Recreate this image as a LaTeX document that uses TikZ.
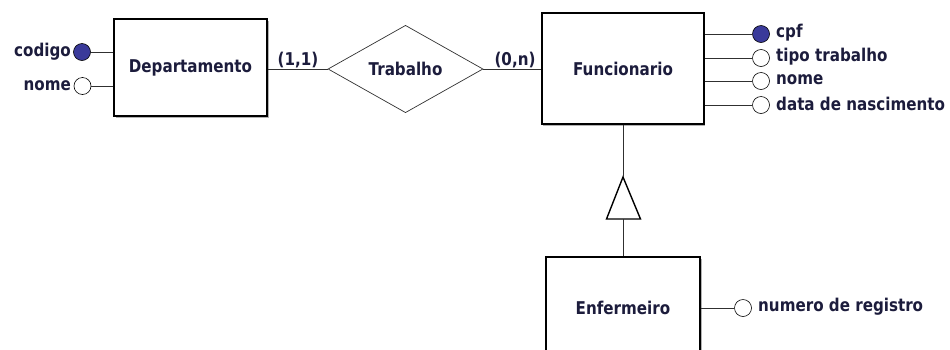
\documentclass[tikz,border=0pt]{standalone}
\usepackage{fontspec}
\setmainfont{DejaVu Sans}[FakeStretch=0.86]
\usetikzlibrary{shapes.geometric}
\definecolor{txt}{HTML}{1C1C3C}
\definecolor{keyfill}{HTML}{3A3A9A}
\definecolor{ln}{HTML}{303030}
\tikzset{
  lbl/.style={font=\fontsize{17.6}{20}\selectfont\bfseries, text=txt, inner sep=0pt},
  entity/.style={draw=black, line width=1.3pt, fill=white, inner sep=0pt, lbl},
  attr/.style={circle, draw=black, line width=0.6pt, fill=white, minimum size=17pt, inner sep=0pt},
  keyattr/.style={attr, fill=keyfill},
  conn/.style={draw=ln, line width=0.9pt},
}
\begin{document}
\begin{tikzpicture}[x=1pt,y=-1pt]
\useasboundingbox (0,0) rectangle (950,349);
\clip (0,0) rectangle (950,349);
% shadows
\fill[gray!60] (116,21) rectangle (269,118);
\fill[gray!60] (543,15) rectangle (705,126);
\fill[gray!60] (548,259) rectangle (702,361);
% entities
\node[entity, minimum width=153pt, minimum height=97pt] (dep) at (190.5,67.5) {Departamento};
\node[entity, minimum width=162pt, minimum height=111pt] (fun) at (623,68.5) {Funcionario};
\node[entity, minimum width=154pt, minimum height=102pt] (enf) at (623,308) {Enfermeiro};
% relationship
\node[diamond, draw=ln, line width=0.7pt, minimum width=155pt, minimum height=77pt, inner sep=0pt, lbl] (trab) at (405.5,69) {Trabalho};
\draw[conn] (dep.east |- trab.west) -- (trab.west);
\draw[conn] (trab.east) -- (fun.west |- trab.east);
\node[lbl] (c11) at (298,60) {(1,1)};
\node[lbl] (c0n) at (515,60) {(0,n)};
% Departamento attributes
\node[keyattr] (codigo) at (82,52) {};
\node[attr] (dnome) at (82.5,86) {};
\node[lbl, anchor=east] (tcodigo) at (71,52) {codigo};
\node[lbl, anchor=east] (tdnome) at (71,85.5) {nome};
\draw[conn] (codigo.east) -- (codigo.east -| dep.west);
\draw[conn] (dnome.east) -- (dnome.east -| dep.west);
% Funcionario attributes
\node[keyattr] (cpf) at (761,34) {};
\node[attr] (tipo) at (761,58) {};
\node[attr] (fnome) at (761,81) {};
\node[attr] (data) at (761,105) {};
\node[lbl, anchor=west] (tcpf) at (776,33) {cpf};
\node[lbl, anchor=west] (ttipo) at (776,57) {tipo trabalho};
\node[lbl, anchor=west] (tfnome) at (776,80) {nome};
\node[lbl, anchor=west] (tdata) at (776,104) {data de nascimento};
\foreach \a in {cpf,tipo,fnome,data}{
  \draw[conn] (\a.west -| fun.east) -- (\a.west);
}
% Enfermeiro attribute
\node[attr] (reg) at (743,308) {};
\node[lbl, anchor=west] (treg) at (758,307) {numero de registro};
\draw[conn] (reg.west -| enf.east) -- (reg.west);
% specialisation triangle
\coordinate (apex) at (623,177);
\coordinate (bl) at (606.5,219);
\coordinate (br) at (640.5,219);
\coordinate (basemid) at (623,219);
\draw[black, line width=1.4pt, line join=miter, fill=white] (apex) -- (br) -- (bl) -- cycle;
\draw[conn] (fun.south) -- (apex);
\draw[conn] (basemid) -- (enf.north);
\end{tikzpicture}
\end{document}
